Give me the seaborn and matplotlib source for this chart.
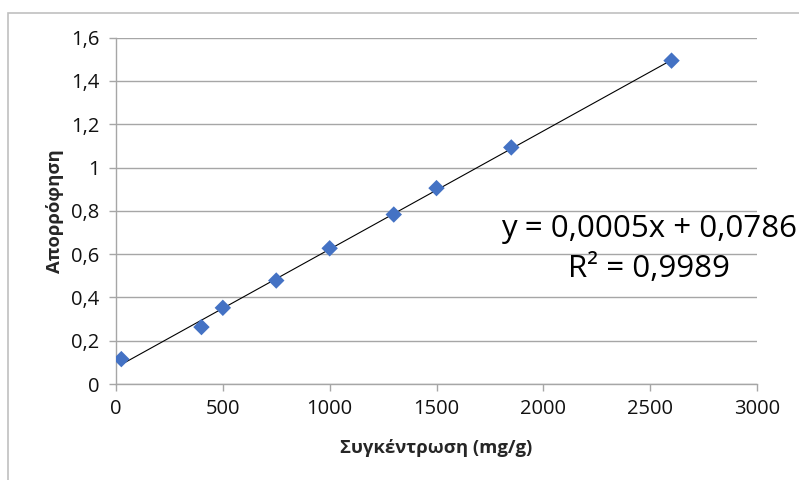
import numpy as np
import pandas as pd
import matplotlib
matplotlib.use("Agg")
import matplotlib.pyplot as plt
import seaborn as sns
from matplotlib.ticker import FuncFormatter
from matplotlib.patches import Rectangle

# Data
concentration = [25, 400, 500, 750, 1000, 1300, 1500, 1850, 2600]   # mg/g
absorbance = [0.115, 0.263, 0.352, 0.478, 0.627, 0.783, 0.905, 1.093, 1.494]

x_label = "Συγκέντρωση (mg/g)"
y_label = "Απορρόφηση"
eq_text = "y = 0,0005x + 0,0786"
r2_text = "R² = 0,9989"

x_ticks = [0, 500, 1000, 1500, 2000, 2500, 3000]
y_ticks = [0, 0.2, 0.4, 0.6, 0.8, 1.0, 1.2, 1.4, 1.6]

df = pd.DataFrame({"conc": concentration, "abs": absorbance})

sns.set_style("white")
plt.rcParams['font.family'] = ['Open Sans', 'Noto Sans', 'DejaVu Sans']

fig = plt.figure(figsize=(7.99, 4.8), dpi=100)
ax = fig.add_axes([116/799, 96/480, 641/799, 346.3/480])

grid_col = "#A6A6A6"

# trendline (linear fit over data range)
sns.regplot(data=df, x="conc", y="abs", scatter=False, ci=None, ax=ax,
            line_kws={"color": "black", "lw": 0.8, "zorder": 2})

# points
sns.scatterplot(data=df, x="conc", y="abs", marker="D", s=70, color="#4472C4",
                edgecolor="none", ax=ax, zorder=3)

ax.set_xlim(0, 3000)
ax.set_ylim(0, 1.6)
ax.set_xticks(x_ticks)
ax.set_yticks(y_ticks)

def comma_fmt(v, pos):
    if abs(v - round(v)) < 1e-9:
        return str(int(round(v)))
    return f"{v:.1f}".replace(".", ",")

ax.yaxis.set_major_formatter(FuncFormatter(comma_fmt))

ax.yaxis.grid(True, color=grid_col, lw=1)
ax.xaxis.grid(False)
ax.set_axisbelow(True)

for side in ["top", "right"]:
    ax.spines[side].set_visible(False)
for side in ["left", "bottom"]:
    ax.spines[side].set_color(grid_col)
    ax.spines[side].set_linewidth(1)

ax.tick_params(axis="both", which="major", direction="out", length=5, width=1,
               color=grid_col, labelsize=14.5, labelcolor="#111111")
ax.tick_params(axis="x", pad=6, bottom=True)
ax.tick_params(axis="y", pad=7, left=True)

ax.set_xlabel(x_label, fontsize=13.3, fontweight="bold", labelpad=14)
ax.set_ylabel(y_label, fontsize=13.3, fontweight="bold", labelpad=5)

# equation label
ax.text(2494, 0.625, eq_text + "\n" + r2_text, ha="center", va="center",
        fontsize=22.5, color="black", linespacing=1.45, multialignment="center")

# chart border (clipped at right and bottom like the original)
fig.patches.append(Rectangle((8/799, -0.1), 1.2, 1.1 - 13/480,
                             transform=fig.transFigure, fill=False,
                             edgecolor="#C0C0C0", lw=1.2))

fig.savefig("out.png", dpi=100)
